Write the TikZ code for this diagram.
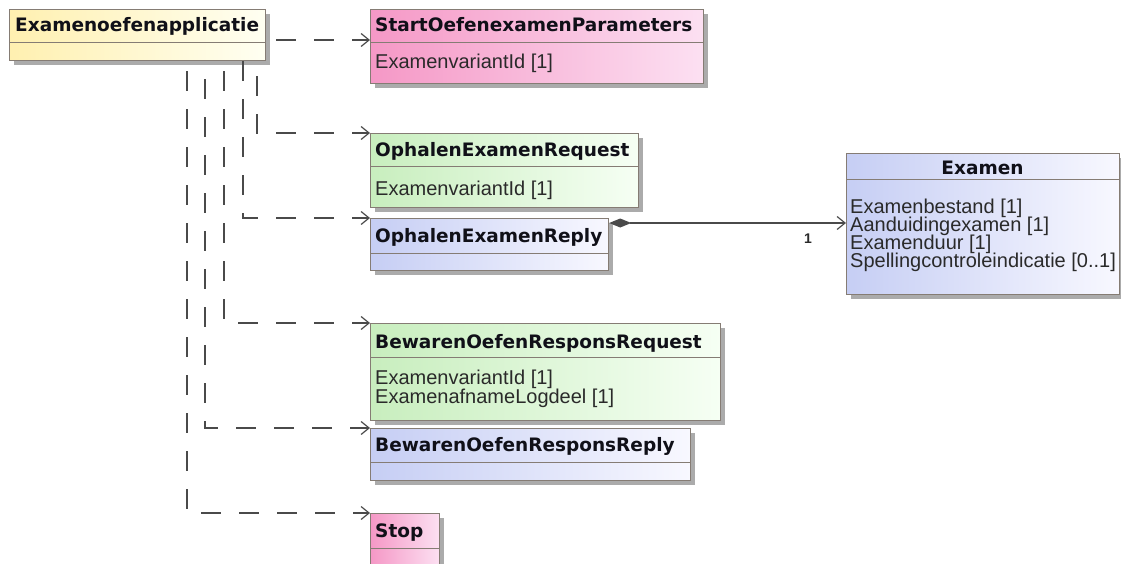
\documentclass[tikz,border=0pt]{standalone}
\usepackage{fontspec}
\setmainfont{Liberation Sans}
\newfontfamily\hdrfont{DejaVu Sans}
\usetikzlibrary{arrows.meta,shadows}
\definecolor{appL}{HTML}{FFF0B0}
\definecolor{appR}{HTML}{FFFFF2}
\definecolor{pinkL}{HTML}{F598C6}
\definecolor{pinkR}{HTML}{FCE0F2}
\definecolor{greenL}{HTML}{C8EEBE}
\definecolor{greenR}{HTML}{F6FFF4}
\definecolor{blueL}{HTML}{C6CEF4}
\definecolor{blueR}{HTML}{F8F8FF}
\definecolor{boxline}{HTML}{857C74}
\definecolor{shadowc}{HTML}{ABABAB}
\definecolor{depc}{HTML}{4A4A4A}
\definecolor{hdrtext}{HTML}{101018}
\definecolor{attrtext}{HTML}{2A2A2A}
\tikzset{
  cls/.style={draw=boxline, line width=1.2pt, anchor=north west, inner sep=0pt,
    drop shadow={shadow xshift=4pt, shadow yshift=-4pt, fill=shadowc, opacity=1}},
  pinkbox/.style={cls, left color=pinkL, right color=pinkR},
  greenbox/.style={cls, left color=greenL, right color=greenR},
  bluebox/.style={cls, left color=blueL, right color=blueR},
  yellowbox/.style={cls, left color=appL, right color=appR},
  sep/.style={draw=boxline, line width=1pt},
  hdr/.style={font=\hdrfont\bfseries\fontsize{18.5}{21}\selectfont, anchor=base west, inner sep=0pt, text=hdrtext},
  attr/.style={font=\fontsize{20}{20}\selectfont, anchor=base west, inner sep=0pt, text=attrtext},
  dep/.style={draw=depc, line width=1.2pt, dash pattern=on 20pt off 18pt, -{Straight Barb[length=8pt,width=13pt]}},
  assoc/.style={draw=depc, line width=1.2pt, {Diamond[length=22pt,width=9pt,fill=depc]}-{Straight Barb[length=8pt,width=13pt]}},
  mult/.style={font=\bfseries\fontsize{14}{16}\selectfont, inner sep=0pt, text=attrtext}
}
\begin{document}
\begin{tikzpicture}[x=1pt,y=-1pt]
\useasboundingbox[fill=white] (0,0) rectangle (1121,564);

% Examenoefenapplicatie
\node[yellowbox, minimum width=256pt, minimum height=51pt] (app) at (9,9) {};
\draw[sep] ([yshift=-34pt]app.north west) -- ([yshift=-34pt]app.north east);
\node[hdr] (appT) at ([xshift=6pt,yshift=-23pt]app.north west) {Examenoefenapplicatie};

% StartOefenexamenParameters
\node[pinkbox, minimum width=333pt, minimum height=74pt] (start) at (370,9) {};
\draw[sep] ([yshift=-34pt]start.north west) -- ([yshift=-34pt]start.north east);
\node[hdr] (startT) at ([xshift=5pt,yshift=-23pt]start.north west) {StartOefenexamenParameters};
\node[attr] (startA) at ([xshift=5pt,yshift=-60pt]start.north west) {ExamenvariantId [1]};

% OphalenExamenRequest
\node[greenbox, minimum width=268pt, minimum height=74pt] (req) at (370,133) {};
\draw[sep] ([yshift=-34pt]req.north west) -- ([yshift=-34pt]req.north east);
\node[hdr] (reqT) at ([xshift=5pt,yshift=-24pt]req.north west) {OphalenExamenRequest};
\node[attr] (reqA) at ([xshift=5pt,yshift=-63pt]req.north west) {ExamenvariantId [1]};

% OphalenExamenReply
\node[bluebox, minimum width=238pt, minimum height=52pt] (rep) at (370,218) {};
\draw[sep] ([yshift=-35pt]rep.north west) -- ([yshift=-35pt]rep.north east);
\node[hdr] (repT) at ([xshift=5pt,yshift=-24pt]rep.north west) {OphalenExamenReply};

% Examen
\node[bluebox, minimum width=273pt, minimum height=141pt] (exam) at (846,153) {};
\draw[sep] ([yshift=-27pt]exam.north west) -- ([yshift=-27pt]exam.north east);
\node[hdr, anchor=base] (examT) at ([xshift=136.5pt,yshift=-22pt]exam.north west) {Examen};
\node[attr] (examA1) at ([xshift=4pt,yshift=-60pt]exam.north west) {Examenbestand [1]};
\node[attr] (examA2) at ([xshift=4pt,yshift=-78pt]exam.north west) {Aanduidingexamen [1]};
\node[attr] (examA3) at ([xshift=4pt,yshift=-96pt]exam.north west) {Examenduur [1]};
\node[attr] (examA4) at ([xshift=4pt,yshift=-114pt]exam.north west) {Spellingcontroleindicatie [0..1]};

% BewarenOefenResponsRequest
\node[greenbox, minimum width=350pt, minimum height=97pt] (breq) at (370,323) {};
\draw[sep] ([yshift=-34pt]breq.north west) -- ([yshift=-34pt]breq.north east);
\node[hdr] (breqT) at ([xshift=5pt,yshift=-25pt]breq.north west) {BewarenOefenResponsRequest};
\node[attr] (breqA1) at ([xshift=5pt,yshift=-61pt]breq.north west) {ExamenvariantId [1]};
\node[attr] (breqA2) at ([xshift=5pt,yshift=-80pt]breq.north west) {ExamenafnameLogdeel [1]};

% BewarenOefenResponsReply
\node[bluebox, minimum width=320pt, minimum height=52pt] (brep) at (370,428) {};
\draw[sep] ([yshift=-34pt]brep.north west) -- ([yshift=-34pt]brep.north east);
\node[hdr] (brepT) at ([xshift=5pt,yshift=-23pt]brep.north west) {BewarenOefenResponsReply};

% Stop
\node[pinkbox, minimum width=69pt, minimum height=62pt] (stop) at (370,513) {};
\draw[sep] ([yshift=-35pt]stop.north west) -- ([yshift=-35pt]stop.north east);
\node[hdr] (stopT) at ([xshift=5pt,yshift=-24pt]stop.north west) {Stop};

% dependencies
\draw[dep, dash phase=28pt] ([yshift=-31pt]app.north east) -- ([yshift=-31pt]app.north east -| start.west);
\draw[dep, dash phase=23pt] ([xshift=248pt]app.south west) |- (req.north west);
\draw[dep, dash phase=0pt] ([xshift=234pt]app.south west) |- (rep.north west);
\draw[dep, dash phase=28pt] ([xshift=215pt]app.south west) |- (breq.north west);
\draw[dep, dash phase=20pt] ([xshift=196pt]app.south west) |- (brep.north west);
\draw[dep, dash phase=28pt] ([xshift=178pt]app.south west) |- (stop.north west);

% association
\draw[assoc] ([yshift=-5pt]rep.north east) -- ([yshift=-5pt]rep.north east -| exam.west);
\node[mult] (m1) at (808,239) {1};
\end{tikzpicture}
\end{document}
